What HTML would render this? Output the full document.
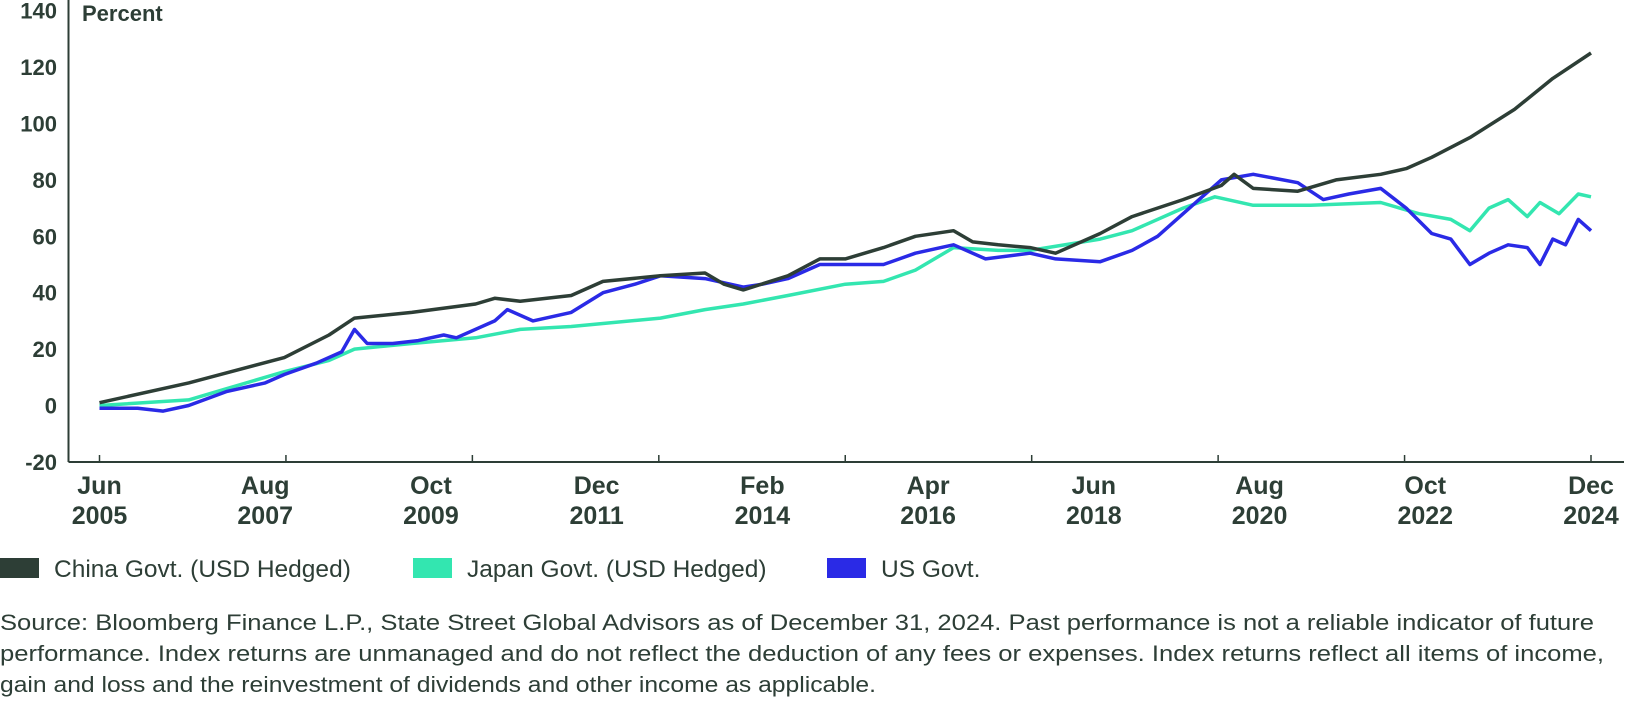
<!DOCTYPE html>
<html><head><meta charset="utf-8"><style>
body{margin:0;background:#fff;width:1626px;height:702px;overflow:hidden;font-family:"Liberation Sans",Arial,sans-serif;color:#2d3e36}
</style></head><body>
<svg id="chart" width="1626" height="702" xmlns="http://www.w3.org/2000/svg" style="position:absolute;left:0;top:0">
<g id="grid"></g><g id="series"></g><g id="axes"></g>
<text x="82" y="21" font-size="22" font-weight="bold" fill="#2d3e36">Percent</text>
<g font-size="24.5" fill="#2d3e36">
<rect x="0" y="558" width="39" height="20" fill="#2d3e36"/>
<text x="54" y="577">China Govt. (USD Hedged)</text>
<rect x="413" y="558" width="39" height="20" fill="#33e6b0"/>
<text x="467" y="577">Japan Govt. (USD Hedged)</text>
<rect x="827" y="558" width="39" height="20" fill="#2a2ae6"/>
<text x="881" y="577">US Govt.</text>
</g>
<g font-size="21.8" fill="#2d3e36">
<text x="0" y="630" textLength="1594" lengthAdjust="spacingAndGlyphs">Source: Bloomberg Finance L.P., State Street Global Advisors as of December 31, 2024. Past performance is not a reliable indicator of future</text>
<text x="0" y="661" textLength="1604" lengthAdjust="spacingAndGlyphs">performance. Index returns are unmanaged and do not reflect the deduction of any fees or expenses. Index returns reflect all items of income,</text>
<text x="0" y="692" textLength="876" lengthAdjust="spacingAndGlyphs">gain and loss and the reinvestment of dividends and other income as applicable.</text>
</g>
</svg>
<script>
const yTicks=[140,120,100,80,60,40,20,0,-20];
const xLabelsTop=["Jun","Aug","Oct","Dec","Feb","Apr","Jun","Aug","Oct","Dec"];
const xLabelsBottom=["2005","2007","2009","2011","2014","2016","2018","2020","2022","2024"];
const chinaMonths=[0,14,29,36,40,49,59,62,66,74,79,88,95,98,101,108,113,117,123,128,134,137,141,146,150,157,162,170,176,178,181,188,194,201,205,209,215,222,228,234];
const chinaValues=[1,8,17,25,31,33,36,38,37,39,44,46,47,43,41,46,52,52,56,60,62,58,57,56,54,61,67,73,78,82,77,76,80,82,84,88,95,105,116,125];
const japanMonths=[0,14,20,29,36,40,49,59,66,74,88,95,101,108,117,123,128,134,141,146,157,162,170,175,181,190,201,207,212,215,218,221,224,226,229,232,234];
const japanValues=[0,2,6,12,16,20,22,24,27,28,31,34,36,39,43,44,48,56,55,55,59,62,70,74,71,71,72,68,66,62,70,73,67,72,68,75,74];
const usMonths=[0,6,10,14,20,26,29,34,38,40,42,46,50,54,56,62,64,68,74,79,84,88,95,101,104,108,113,117,123,128,132,134,139,146,150,157,162,166,170,176,181,188,192,196,201,205,209,212,215,218,221,224,226,228,230,232,234];
const usValues=[-1,-1,-2,0,5,8,11,15,19,27,22,22,23,25,24,30,34,30,33,40,43,46,45,42,43,45,50,50,50,54,56,57,52,54,52,51,55,60,68,80,82,79,73,75,77,70,61,59,50,54,57,56,50,59,57,66,62];
const NS="http://www.w3.org/2000/svg";
const X0=99.5,X1=1591,Y0=405.5,PX=56.4/20,BASE=462;
const xs=m=>X0+(X1-X0)*m/234;
const ys=v=>Y0-v*PX;
function mk(tag,attrs,parent){const e=document.createElementNS(NS,tag);for(const k in attrs)e.setAttribute(k,attrs[k]);parent.appendChild(e);return e;}
const axes=document.getElementById('axes');
let e=mk('line',{x1:68.5,y1:0,x2:68.5,y2:BASE,stroke:'#2d3e36','stroke-width':2},axes);


e=mk('line',{x1:68.5,y1:BASE,x2:1624,y2:BASE,stroke:'#2d3e36','stroke-width':2},axes);


yTicks.forEach(v=>{const t=mk('text',{x:57,y:ys(v)+8,'text-anchor':'end','font-size':22,'font-weight':'bold',fill:'#2d3e36'},axes);t.textContent=v;

});
for(let i=0;i<=8;i++){const x=X0+(X1-X0)*i/8;const t=mk('line',{x1:x,y1:BASE-7,x2:x,y2:BASE,stroke:'#2d3e36','stroke-width':1.5},axes);

}
xLabelsTop.forEach((l,i)=>{const x=X0+(X1-X0)*i/9;
const t=mk('text',{x:x,y:494,'text-anchor':'middle','font-size':25,'font-weight':'bold',fill:'#2d3e36'},axes);t.textContent=l;


const b=mk('text',{x:x,y:524,'text-anchor':'middle','font-size':25,'font-weight':'bold',fill:'#2d3e36'},axes);b.textContent=xLabelsBottom[i];

});
const sg=document.getElementById('series');
function line(ms,vs,color,name){const d=ms.map((m,i)=>(i?'L':'M')+xs(m).toFixed(1)+','+ys(vs[i]).toFixed(1)).join(' ');
const p=mk('path',{d:d,fill:'none',stroke:color,'stroke-width':3.5,'stroke-linejoin':'round'},sg);

}
line(japanMonths,japanValues,'#33e6b0','japan-govt-line');
line(usMonths,usValues,'#2a2ae6','us-govt-line');
line(chinaMonths,chinaValues,'#2d3e36','china-govt-line');
</script>
</body></html>
